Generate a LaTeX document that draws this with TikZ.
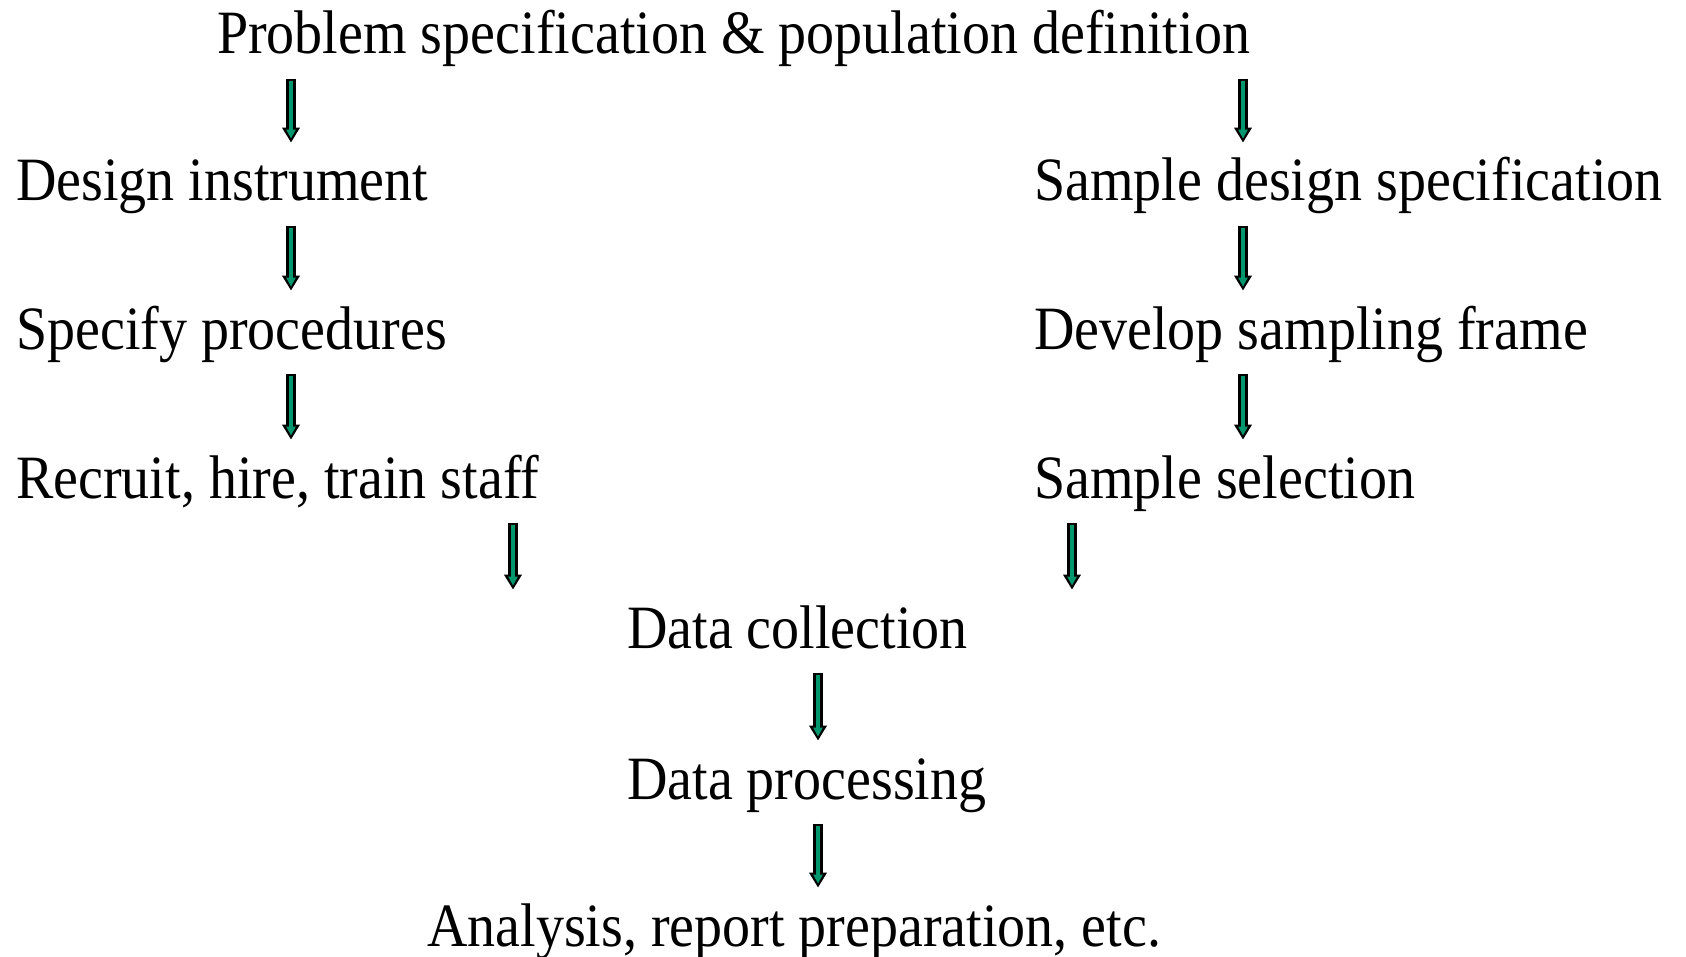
\documentclass[tikz,border=0pt]{standalone}
\usepackage{fontspec}
\setmainfont{Liberation Serif}
\usetikzlibrary{positioning,arrows.meta}
\definecolor{flowgreen}{RGB}{0,150,110}
\tikzset{stage/.style={anchor=base west, inner sep=0pt, text height=42pt, text depth=14pt, yscale=1.1, transform shape, font=\fontsize{56}{60}\selectfont},
  flow/.style={draw=black, line width=10pt, -{Triangle[width=17pt,length=15pt]}, shorten <=9pt, shorten >=12pt,
    postaction={draw=flowgreen, line width=4pt, -{Triangle[width=9pt,length=9pt]}, shorten <=11pt, shorten >=16pt}}}
\begin{document}
\begin{tikzpicture}[x=1pt,y=-1pt]
\useasboundingbox (0,0) rectangle (1686,957);
\coordinate (colL) at (291,0); \coordinate (colR) at (1243,0);
\coordinate (midL) at (513,0); \coordinate (midR) at (1072,0); \coordinate (colC) at (818,0);
                         \node[stage] (prob) at (217,54) {Problem specification \& population definition};
\node[stage] (design) at (16,201) {Design instrument};   \node[stage] (sdesign) at (1034,201) {Sample design specification};
\node[stage] (proc) at (16,349) {Specify procedures};    \node[stage] (frame) at (1034,349) {Develop sampling frame};
\node[stage] (staff) at (16,498) {Recruit, hire, train staff}; \node[stage] (select) at (1034,498) {Sample selection};
           \node[stage] (collect) at (627,648) {Data collection};
           \node[stage] (dproc) at (627,799) {Data processing};
   \node[stage] (report) at (427,946) {Analysis, report preparation, etc.};
 \draw[flow] (prob.south -| colL) -- (design.north -| colL);  \draw[flow] (prob.south -| colR) -- (sdesign.north -| colR);
 \draw[flow] (design.south -| colL) -- (proc.north -| colL);  \draw[flow] (sdesign.south -| colR) -- (frame.north -| colR);
 \draw[flow] (proc.south -| colL) -- (staff.north -| colL);   \draw[flow] (frame.south -| colR) -- (select.north -| colR);
 \draw[flow] (staff.south -| midL) -- (collect.north -| midL); \draw[flow] (select.south -| midR) -- (collect.north -| midR);
 \draw[flow] (collect.south -| colC) -- (dproc.north -| colC);
 \draw[flow] (dproc.south -| colC) -- (report.north -| colC);
\end{tikzpicture}
\end{document}
